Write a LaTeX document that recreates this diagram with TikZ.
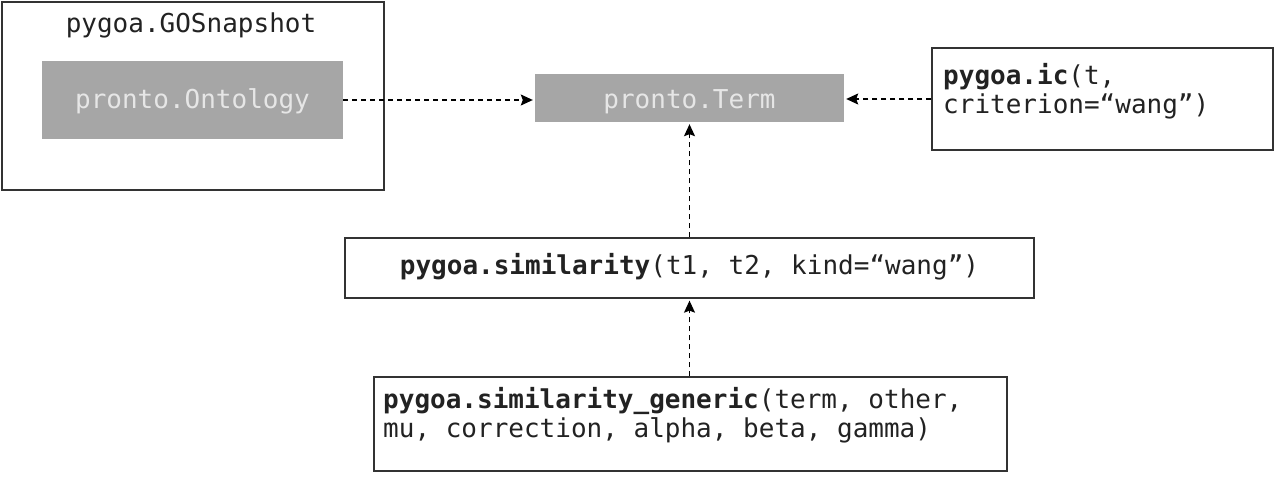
\documentclass[tikz,border=0pt]{standalone}
\usepackage{fontspec}
\setmainfont{DejaVu Sans Mono}
\usetikzlibrary{arrows.meta}
\definecolor{boxgray}{HTML}{A6A6A6}
\definecolor{lighttxt}{HTML}{E6E6E6}
\definecolor{darktxt}{HTML}{222222}
\definecolor{edge}{HTML}{333333}
\begin{document}
\begin{tikzpicture}[x=1pt,y=-1pt,
  frame/.style={draw=edge,line width=1.3pt,fill=white,inner sep=0pt},
  graybox/.style={fill=boxgray,draw=none,inner sep=0pt},
  code/.style={font=\fontsize{26}{29}\selectfont,text=darktxt,inner sep=0pt},
  lightcode/.style={font=\fontsize{26}{29}\selectfont,text=lighttxt,inner sep=0pt},
  dep/.style={draw=black,line width=1.2pt,dash pattern=on 5pt off 4pt,shorten >=2pt,-{Stealth[length=12pt,width=11pt,inset=2pt]}}]
\useasboundingbox (0,0) rectangle (1281,484);
\fill[white] (0,0) rectangle (1281,484);
% boxes
\node[frame,minimum width=382pt,minimum height=188pt] (snap) at (193,96) {};
\node[graybox,minimum width=301pt,minimum height=78pt] (onto) at (192.5,100) {};
\node[graybox,minimum width=309pt,minimum height=48pt] (term) at (689.5,98) {};
\node[frame,minimum width=341pt,minimum height=102pt] (ic) at (1102.5,99) {};
\node[frame,minimum width=689pt,minimum height=60pt] (sim) at (689.5,268) {};
\node[frame,minimum width=633pt,minimum height=94pt] (gen) at (690.5,424) {};
% texts
\node[code,anchor=base] (snaptxt) at (191,33) {pygoa.GOSnapshot};
\node[lightcode,anchor=base] (ontotxt) at (192.5,109) {pronto.Ontology};
\node[lightcode,anchor=base] (termtxt) at (689.5,109) {pronto.Term};
\node[code,anchor=west,align=left] (ictxt) at (943,91) {\textbf{pygoa.ic}(t,\\criterion=“wang”)};
\node[code,anchor=base] (simtxt) at (689.5,274) {\textbf{pygoa.similarity}(t1, t2, kind=“wang”)};
\node[code,anchor=west,align=left] (gentxt) at (383,415.5) {\textbf{pygoa.similarity\_generic}(term, other,\\mu, correction, alpha, beta, gamma)};
% connectors
\draw[dep] (onto.east) -- (onto.east -| term.west);
\draw[dep] (ic.west) -- (ic.west -| term.east);
\draw[dep] (sim.north) -- (term.south);
\draw[dep] (gen.north -| sim.south) -- (sim.south);
\end{tikzpicture}
\end{document}
